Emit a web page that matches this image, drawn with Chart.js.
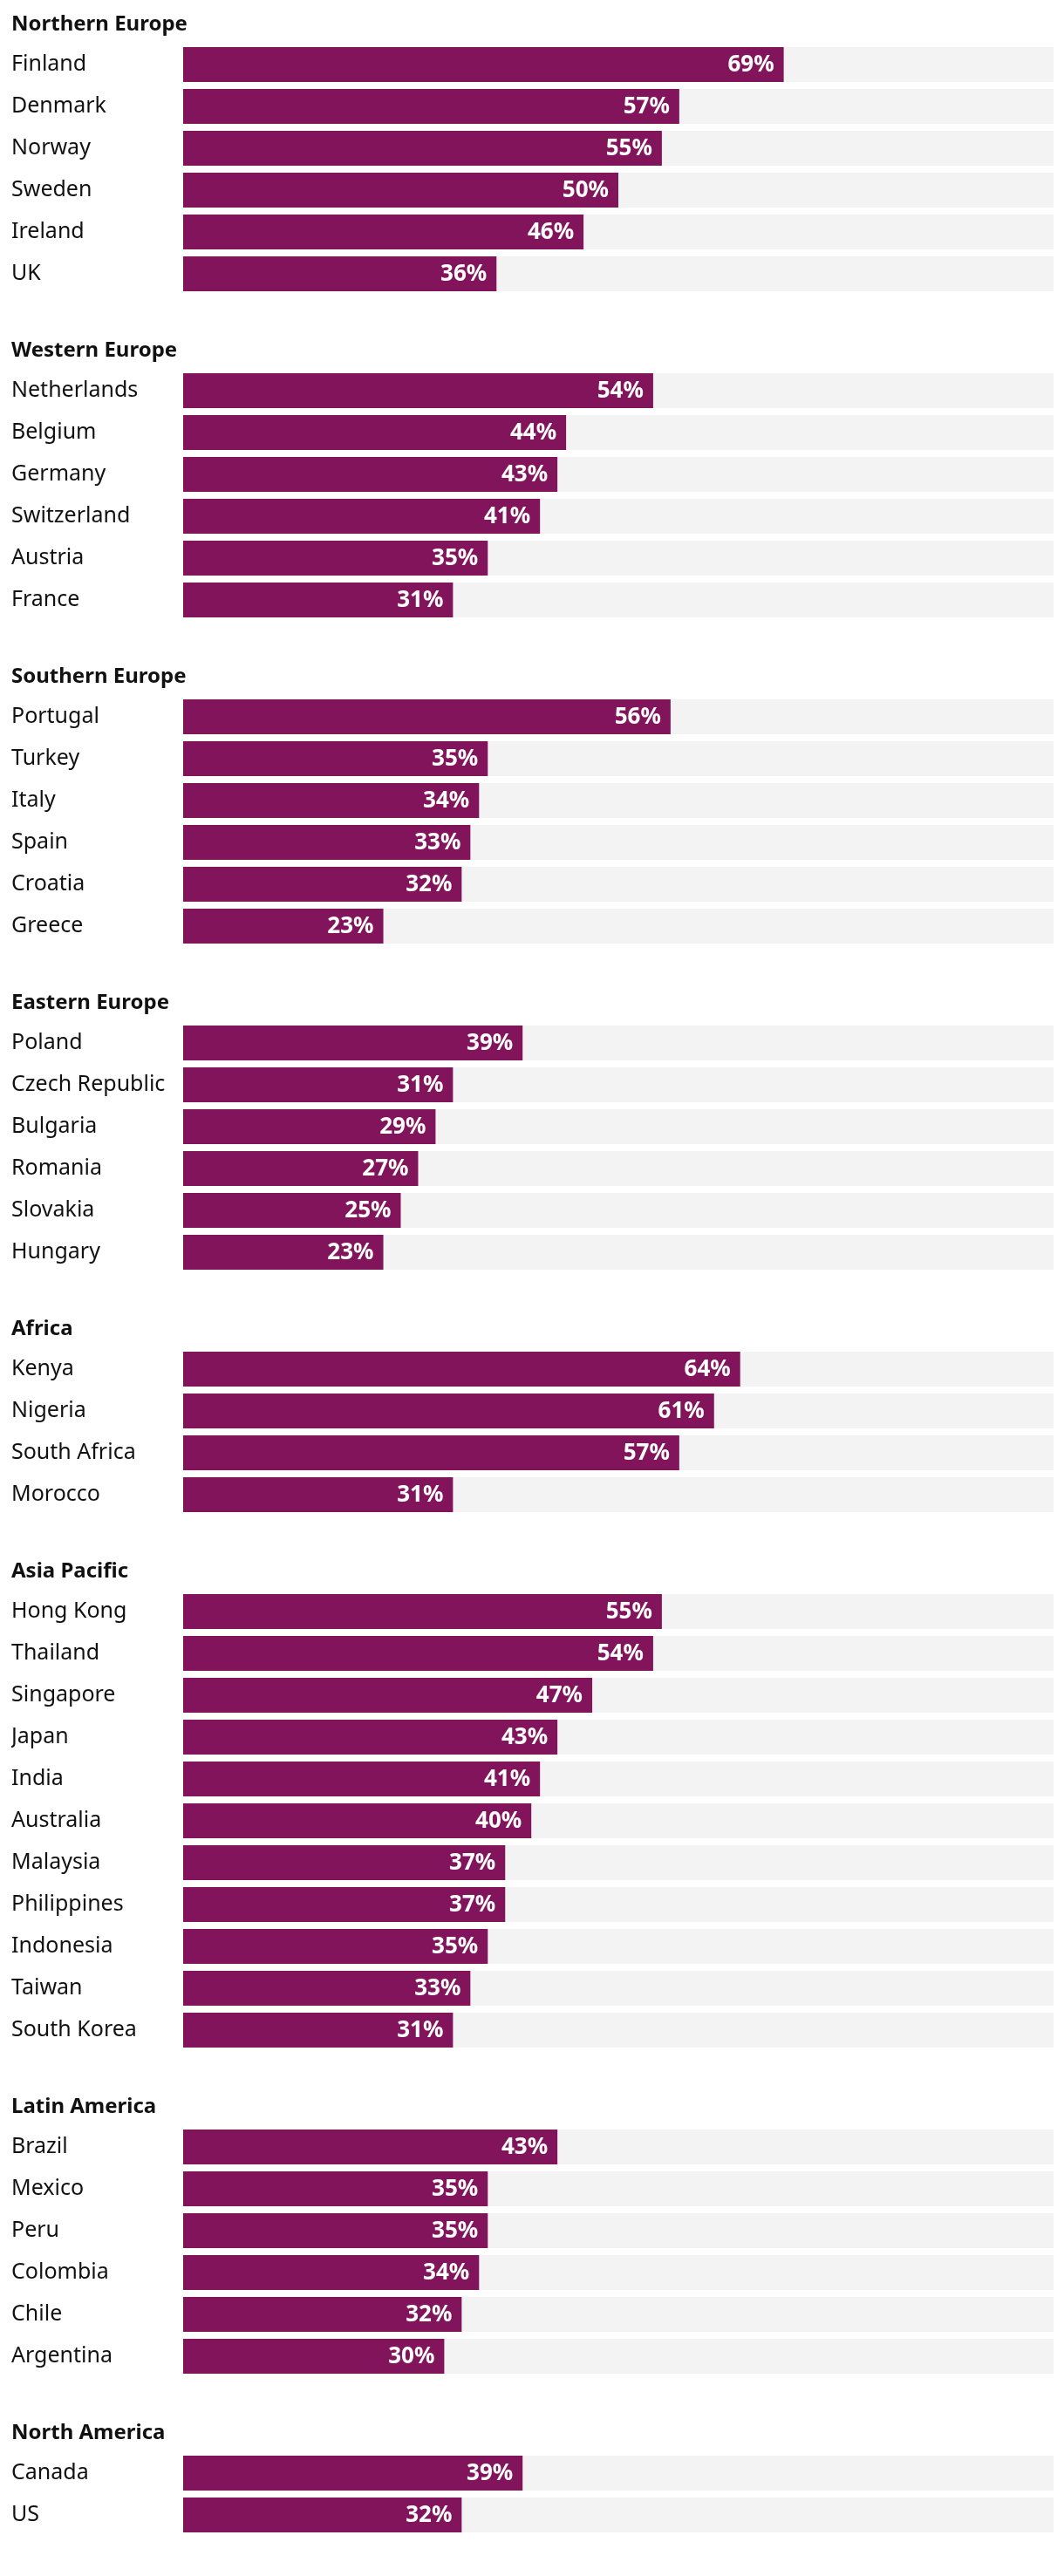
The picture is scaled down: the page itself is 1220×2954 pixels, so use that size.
<!DOCTYPE html>
<html>
<head>
<meta charset="utf-8">
<script src="https://cdn.jsdelivr.net/npm/chart.js@4/dist/chart.umd.min.js"></script>
<style>
  html, body { margin: 0; padding: 0; background: #ffffff; }
  #wrap { width: 1220px; }
  .block { position: relative; width: 1220px; }
</style>
</head>
<body>
<div id="wrap"></div>
<script>
// ---- Data ----
const regionNames = ["Northern Europe", "Western Europe", "Southern Europe", "Eastern Europe", "Africa", "Asia Pacific", "Latin America", "North America"];

const northernEuropeCountries = ["Finland", "Denmark", "Norway", "Sweden", "Ireland", "UK"];
const northernEuropeValues = [69, 57, 55, 50, 46, 36];

const westernEuropeCountries = ["Netherlands", "Belgium", "Germany", "Switzerland", "Austria", "France"];
const westernEuropeValues = [54, 44, 43, 41, 35, 31];

const southernEuropeCountries = ["Portugal", "Turkey", "Italy", "Spain", "Croatia", "Greece"];
const southernEuropeValues = [56, 35, 34, 33, 32, 23];

const easternEuropeCountries = ["Poland", "Czech Republic", "Bulgaria", "Romania", "Slovakia", "Hungary"];
const easternEuropeValues = [39, 31, 29, 27, 25, 23];

const africaCountries = ["Kenya", "Nigeria", "South Africa", "Morocco"];
const africaValues = [64, 61, 57, 31];

const asiaPacificCountries = ["Hong Kong", "Thailand", "Singapore", "Japan", "India", "Australia", "Malaysia", "Philippines", "Indonesia", "Taiwan", "South Korea"];
const asiaPacificValues = [55, 54, 47, 43, 41, 40, 37, 37, 35, 33, 31];

const latinAmericaCountries = ["Brazil", "Mexico", "Peru", "Colombia", "Chile", "Argentina"];
const latinAmericaValues = [43, 35, 35, 34, 32, 30];

const northAmericaCountries = ["Canada", "US"];
const northAmericaValues = [39, 32];

const axisMin = 0;
const axisMax = 100;

const regionCountries = [northernEuropeCountries, westernEuropeCountries, southernEuropeCountries, easternEuropeCountries, africaCountries, asiaPacificCountries, latinAmericaCountries, northAmericaCountries];
const regionValues = [northernEuropeValues, westernEuropeValues, southernEuropeValues, easternEuropeValues, africaValues, asiaPacificValues, latinAmericaValues, northAmericaValues];

// ---- Styling ----
const FONT = "'Noto Sans', 'DejaVu Sans', sans-serif";
const BAR_COLOR = "#82145c";
const TRACK_COLOR = "#f3f3f3";
const ROW = 48;

const trackPlugin = {
  id: "track",
  beforeDatasetsDraw(chart) {
    const ctx = chart.ctx;
    const xs = chart.scales.x;
    const x0 = xs.getPixelForValue(axisMin);
    const x1 = xs.getPixelForValue(axisMax);
    const meta = chart.getDatasetMeta(0);
    ctx.save();
    ctx.fillStyle = TRACK_COLOR;
    meta.data.forEach(el => {
      ctx.fillRect(x0, el.y - el.height / 2, x1 - x0, el.height);
    });
    ctx.restore();
  }
};

const valueLabelPlugin = {
  id: "valueLabels",
  afterDatasetsDraw(chart) {
    const ctx = chart.ctx;
    const meta = chart.getDatasetMeta(0);
    const data = chart.data.datasets[0].data;
    ctx.save();
    ctx.fillStyle = "#ffffff";
    ctx.font = "bold 26px " + FONT;
    ctx.textAlign = "right";
    ctx.textBaseline = "middle";
    meta.data.forEach((el, i) => {
      ctx.fillText(data[i] + "%", el.x - 11, el.y + 1);
    });
    ctx.restore();
  }
};

const wrap = document.getElementById("wrap");

regionNames.forEach((name, gi) => {
  const cats = regionCountries[gi];
  const vals = regionValues[gi];
  const block = document.createElement("div");
  block.className = "block";
  block.style.height = (cats.length * ROW + 86) + "px";
  const canvas = document.createElement("canvas");
  block.appendChild(canvas);
  wrap.appendChild(block);

  new Chart(canvas, {
    type: "bar",
    data: {
      labels: cats,
      datasets: [{
        label: name,
        data: vals,
        backgroundColor: BAR_COLOR,
        borderWidth: 0,
        categoryPercentage: 1,
        barPercentage: 40 / 48
      }]
    },
    options: {
      indexAxis: "y",
      responsive: true,
      maintainAspectRatio: false,
      animation: false,
      events: [],
      layout: { padding: { left: 13, right: 12, top: 0, bottom: 36 } },
      plugins: {
        legend: { display: false },
        tooltip: { enabled: false },
        title: {
          display: true,
          text: name,
          align: "start",
          color: "#111111",
          font: { family: FONT, size: 24, weight: "bold", lineHeight: 28 / 24 },
          padding: { top: 14, bottom: 8 }
        }
      },
      scales: {
        x: {
          display: false,
          min: axisMin,
          max: axisMax
        },
        y: {
          grid: { display: false, drawTicks: false },
          border: { display: false },
          ticks: {
            crossAlign: "far",
            padding: 0,
            color: "#111111",
            font: { family: FONT, size: 25 }
          },
          afterFit(scale) { scale.width = 197; }
        }
      }
    },
    plugins: [trackPlugin, valueLabelPlugin]
  });
});
</script>
</body>
</html>
